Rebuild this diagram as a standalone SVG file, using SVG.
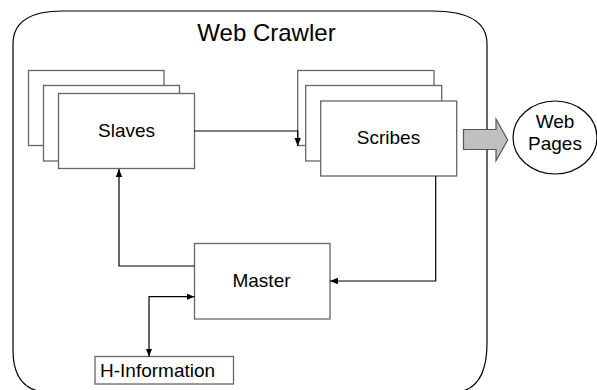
<svg xmlns="http://www.w3.org/2000/svg" width="597" height="390" viewBox="0 0 597 390">
<defs>
<style>
.box{fill:#fff;stroke:#666;stroke-width:1.3}
.lbl{font-family:"Liberation Sans",Arial,sans-serif;fill:#000;text-anchor:middle}
.con{fill:none;stroke:#000;stroke-width:1.2}
</style>
<marker id="ah" viewBox="0 0 10 10" refX="10" refY="5" markerWidth="8" markerHeight="8" markerUnits="userSpaceOnUse" orient="auto-start-reverse">
<path d="M0,1 L10,5 L0,9 z" fill="#000"/>
</marker>
</defs>
<rect width="597" height="390" fill="#fff"/>
<g id="crawler">
<path d="M13,44 Q13,11 63,11 L432,11 Q487,11 487,44 L487,343 Q487,388 458,392 L43,392 Q13,388 13,350 Z" fill="none" stroke="#000" stroke-width="1.2"/>
<text class="lbl" x="266.5" y="41" font-size="24">Web Crawler</text>
</g>
<g id="slaves">
<rect class="box" x="28.5" y="70.5" width="135.5" height="75"/>
<rect class="box" x="43.5" y="85.5" width="136" height="75.5"/>
<rect class="box" x="58.5" y="93.5" width="136" height="75"/>
<text class="lbl" x="126.5" y="137" font-size="19">Slaves</text>
</g>
<g id="scribes">
<rect class="box" x="297.7" y="70.5" width="136.3" height="75"/>
<rect class="box" x="305.7" y="85.5" width="136" height="75.5"/>
<rect class="box" x="320.7" y="101" width="136" height="75"/>
<text class="lbl" x="388.5" y="144" font-size="19">Scribes</text>
</g>
<g id="master">
<rect class="box" x="194.5" y="243.5" width="135.5" height="75.5"/>
<text class="lbl" x="261.5" y="287" font-size="19">Master</text>
</g>
<g id="hinfo">
<rect class="box" x="95" y="356.5" width="138.5" height="27.5" stroke="#000"/>
<text class="lbl" x="100" y="377" font-size="19" style="text-anchor:start">H-Information</text>
</g>
<g id="output-arrow">
<path d="M463.5,129.5 L496,129.5 L496,119 L507.7,140 L496,160.7 L496,149.5 L463.5,149.5 Z" fill="#c0c0c0" stroke="#555" stroke-width="1.2"/>
</g>
<g id="webpages">
<ellipse cx="555" cy="137.5" rx="42" ry="36.5" fill="#fff" stroke="#000" stroke-width="1.2"/>
<text class="lbl" x="555" y="128" font-size="19">Web</text>
<text class="lbl" x="555" y="150" font-size="19">Pages</text>
</g>
<g id="connectors">
<path class="con" d="M194.5,131 L297.7,131 L297.7,146" marker-end="url(#ah)"/>
<path class="con" d="M194.5,266 L119,266 L119,169" marker-end="url(#ah)"/>
<path class="con" d="M435.7,176 L435.7,281 L330,281" marker-end="url(#ah)"/>
<path class="con" d="M149,356.5 L149,296.7 L194.5,296.7" marker-start="url(#ah)" marker-end="url(#ah)"/>
</g>
</svg>
